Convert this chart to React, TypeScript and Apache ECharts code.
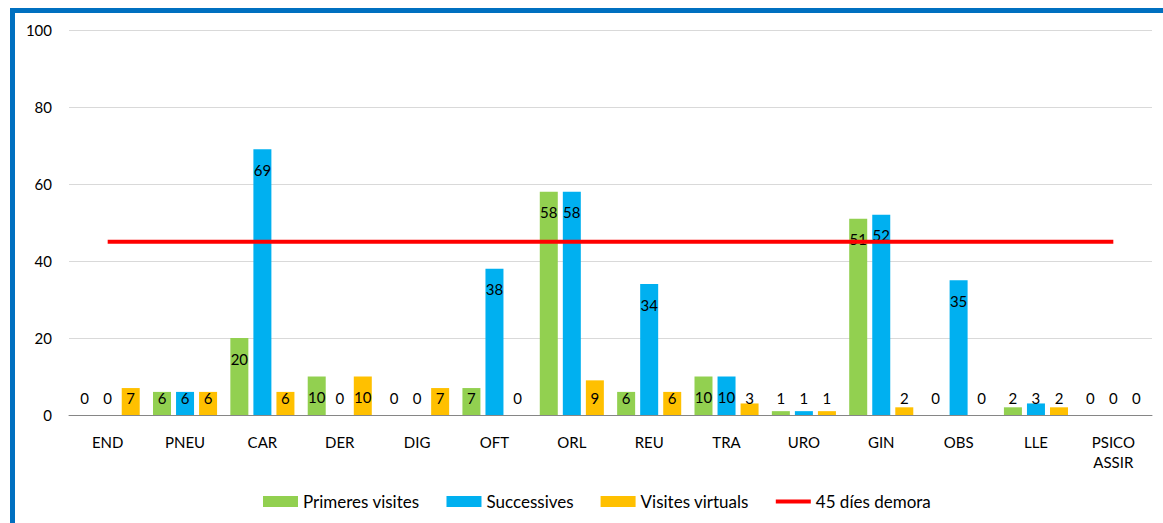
import React, { useEffect, useRef } from "react";
import * as echarts from "echarts";

const categories = ["END", "PNEU", "CAR", "DER", "DIG", "OFT", "ORL", "REU", "TRA", "URO", "GIN", "OBS", "LLE", "PSICO\nASSIR"];
const primeres = [0, 6, 20, 10, 0, 7, 58, 6, 10, 1, 51, 0, 2, 0];
const successives = [0, 6, 69, 0, 0, 38, 58, 34, 10, 1, 52, 35, 3, 0];
const virtuals = [7, 6, 6, 10, 7, 0, 9, 6, 3, 1, 2, 0, 2, 0];
const demora = [45, 45, 45, 45, 45, 45, 45, 45, 45, 45, 45, 45, 45, 45];
const yTicks = [0, 20, 40, 60, 80, 100];

const FONT = "Lato, 'Open Sans', sans-serif";
const LINE_ICON = "path://M0,3.5h35v4h-35z M0,0h0.01v0.01h-0.01z M34.99,10.99h0.01v0.01h-0.01z";

function barData(values: number[]) {
  return values.map((v) => ({
    value: v,
    label:
      v >= 10
        ? { position: "insideTop", distance: 13 }
        : { position: "insideBottom", distance: 10 },
  }));
}

export default function App() {
  const ref = useRef<HTMLDivElement>(null);
  useEffect(() => {
    document.body.style.margin = "0";
    const chart = echarts.init(ref.current!, null, { renderer: "svg" });
    const labelCommon = {
      show: true,
      color: "#000",
      fontSize: 15,
      fontFamily: FONT,
    };
    const barCommon = {
      type: "bar",
      barWidth: 18,
      barGap: "28%",
      label: labelCommon,
    };
    chart.setOption({
      animation: false,
      backgroundColor: "#fff",
      textStyle: { fontFamily: FONT },
      graphic: [
        { type: "rect", shape: { x: 10, y: 8, width: 1153, height: 5 }, style: { fill: "#0070c0" } },
        { type: "rect", shape: { x: 10, y: 8, width: 5, height: 515 }, style: { fill: "#0070c0" } },
      ],
      grid: { left: 69, top: 30, width: 1083, height: 385 },
      legend: {
        left: 258,
        top: 488,
        itemWidth: 35,
        itemHeight: 11,
        itemGap: 27,
        textStyle: { fontSize: 17, color: "#000", fontFamily: FONT },
        data: [
          { name: "Primeres visites", icon: "rect" },
          { name: "Successives", icon: "rect" },
          { name: "Visites virtuals", icon: "rect" },
          { name: "45 díes demora", icon: LINE_ICON },
        ],
      },
      xAxis: {
        type: "category",
        data: categories,
        axisLine: { lineStyle: { color: "#868686", width: 1 } },
        axisTick: { show: false },
        axisLabel: { color: "#000", fontSize: 15, fontFamily: FONT, margin: 17, lineHeight: 20 },
      },
      yAxis: {
        type: "value",
        min: yTicks[0],
        max: yTicks[yTicks.length - 1],
        interval: 20,
        axisLabel: { color: "#000", fontSize: 15, fontFamily: FONT, margin: 17 },
        splitLine: { lineStyle: { color: "#d9d9d9", width: 1 } },
        axisLine: { show: false },
        axisTick: { show: false },
      },
      series: [
        { ...barCommon, name: "Primeres visites", data: barData(primeres), itemStyle: { color: "#92d050" } },
        { ...barCommon, name: "Successives", data: barData(successives), itemStyle: { color: "#00b0f0" } },
        { ...barCommon, name: "Visites virtuals", data: barData(virtuals), itemStyle: { color: "#ffc000" } },
        {
          type: "line",
          name: "45 díes demora",
          data: demora,
          symbol: "none",
          z: 5,
          lineStyle: { color: "#ff0000", width: 4 },
          itemStyle: { color: "#ff0000" },
        },
      ],
    });
    return () => chart.dispose();
  }, []);
  return <div ref={ref} style={{ position: "absolute", left: 0, top: 0, width: 1163, height: 523 }} />;
}
